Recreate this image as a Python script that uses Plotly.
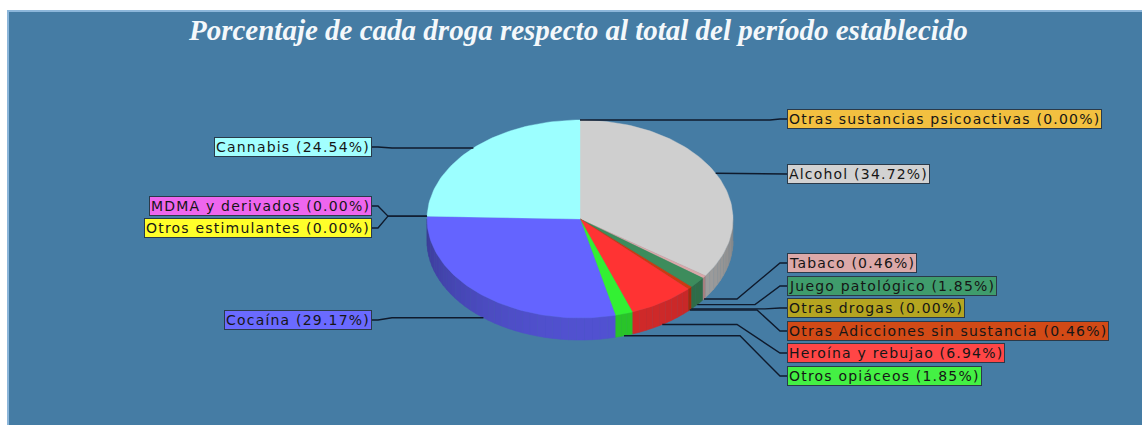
import math
import plotly.graph_objects as go

# Datos: porcentaje de cada droga (orden horario desde las 12)
categorias = [
    "Alcohol", "Tabaco", "Juego patológico", "Otras drogas",
    "Otras Adicciones sin sustancia", "Heroína y rebujao", "Otros opiáceos",
    "Cocaína", "Otros estimulantes", "MDMA y derivados", "Cannabis",
    "Otras sustancias psicoactivas",
]
porcentajes = [34.72, 0.46, 1.85, 0.00, 0.46, 6.94, 1.85, 29.17, 0.00, 0.00, 24.54, 0.00]

colores_sector = [
    "#cfcfcf", "#d9a8a8", "#3d8c5c", "#b0a020", "#cc3a10", "#ff3333",
    "#33f033", "#6464ff", "#ffff22", "#ee66ee", "#9cffff", "#f0be3c",
]
colores_etiqueta = [
    "#d2d2d2", "#dca9a9", "#3f9c6c", "#b5a520", "#d24a16", "#ff4646",
    "#44f044", "#6a6aff", "#ffff2a", "#ee66ee", "#a2ffff", "#f2c040",
]

# Posición de las etiquetas: lado, centro vertical y codo de la línea guía
lado_etiqueta = ["der", "der", "der", "der", "der", "der", "der",
                 "izq", "izq", "izq", "izq", "der"]
y_etiqueta = [174, 263, 286, 308, 331, 353, 376, 320, 228, 206, 147, 119]
codo_x = [770, 737, 755, 765, 757, 737, 740, 392, 388, 388, 392, 770]

titulo = "Porcentaje de cada droga respecto al total del período establecido"

W, H = 1142, 425
CX, CY, RX, RY, PROF = 580, 219, 153, 99, 22
FONDO = "#457ca4"


def punto(theta):
    t = math.radians(theta)
    return CX + RX * math.sin(t), CY - RY * math.cos(t)


def sombra(hexcol, f):
    r, g, b = (int(hexcol[i:i + 2], 16) for i in (1, 3, 5))
    return "rgb(%d,%d,%d)" % (r * f, g * f, b * f)


def factor(theta):
    return 0.62 + 0.2 * math.cos(math.radians(theta - 170))


fig = go.Figure()

# Ángulos de cada sector
total = sum(porcentajes)
limites = []
acum = 0.0
for p in porcentajes:
    a0 = acum / total * 360
    acum += p
    a1 = acum / total * 360
    limites.append((a0, a1))

# Pared lateral (solo la mitad frontal es visible)
for (a0, a1), col, p in zip(limites, colores_sector, porcentajes):
    if p <= 0:
        continue
    s0, s1 = max(a0, 90), min(a1, 270)
    if s1 <= s0:
        continue
    n = max(1, int(math.ceil((s1 - s0) / 3)))
    for k in range(n):
        t0 = s0 + (s1 - s0) * k / n
        t1 = s0 + (s1 - s0) * (k + 1) / n
        arco = [t0 + (t1 - t0) * j / 4 for j in range(5)]
        xs = [punto(t)[0] for t in arco] + [punto(t)[0] for t in reversed(arco)]
        ys = [punto(t)[1] for t in arco] + [punto(t)[1] + PROF for t in reversed(arco)]
        c = sombra(col, factor((t0 + t1) / 2))
        fig.add_trace(go.Scatter(x=xs, y=ys, fill="toself", fillcolor=c,
                                 line=dict(color=c, width=0.6), mode="lines",
                                 hoverinfo="skip", showlegend=False))

# Cara superior
for (a0, a1), col, p, nom in zip(limites, colores_sector, porcentajes, categorias):
    if p <= 0:
        continue
    n = max(2, int(math.ceil((a1 - a0) / 1.5)))
    arco = [a0 + (a1 - a0) * j / n for j in range(n + 1)]
    xs = [CX] + [punto(t)[0] for t in arco] + [CX]
    ys = [CY] + [punto(t)[1] for t in arco] + [CY]
    fig.add_trace(go.Scatter(x=xs, y=ys, fill="toself", fillcolor=col,
                             line=dict(color=col, width=0.4), mode="lines",
                             name=nom, hoverinfo="name", showlegend=False))

# Líneas guía
lx, ly = [], []
for (a0, a1), p, lado, ye, cx in zip(limites, porcentajes, lado_etiqueta, y_etiqueta, codo_x):
    m = (a0 + a1) / 2
    px, py = punto(m)
    if math.cos(math.radians(m)) < 0:
        py += PROF
    if lado == "der":
        lx += [px, cx, 780, 787, None]
    else:
        lx += [px, cx, 378, 372, None]
    ly += [py, py, ye, ye, None]
fig.add_trace(go.Scatter(x=lx, y=ly, mode="lines",
                         line=dict(color="#0f1a2c", width=1.4),
                         hoverinfo="skip", showlegend=False))

# Etiquetas
for nom, p, lado, ye, col in zip(categorias, porcentajes, lado_etiqueta, y_etiqueta, colores_etiqueta):
    texto = '<span style="letter-spacing:1.2px">%s (%.2f%%)</span>' % (nom, p)
    der = lado == "der"
    fig.add_annotation(x=787 if der else 372, y=ye, xref="x", yref="y",
                       text=texto, showarrow=False,
                       xanchor="left" if der else "right", yanchor="middle",
                       font=dict(family="DejaVu Sans", size=14, color="#161616"),
                       bgcolor=col, bordercolor="#2a3a4a", borderwidth=1, borderpad=1)

# Título
fig.add_annotation(x=578, y=30, xref="x", yref="y", text="<b><i>%s</i></b>" % titulo,
                   showarrow=False, xanchor="center", yanchor="middle",
                   font=dict(family="Liberation Serif", size=29, color="#f4f8fb"))

fig.update_layout(
    width=W, height=H, margin=dict(l=0, r=0, t=0, b=0),
    paper_bgcolor="white", plot_bgcolor="rgba(0,0,0,0)",
    xaxis=dict(range=[0, W], visible=False, fixedrange=True),
    yaxis=dict(range=[H, 0], visible=False, fixedrange=True),
    shapes=[dict(type="rect", xref="x", yref="y", x0=8, y0=11, x1=W + 5, y1=H + 5,
                 fillcolor=FONDO, line=dict(color="#8cb6da", width=2), layer="below")],
)

fig.write_html("out.html")
